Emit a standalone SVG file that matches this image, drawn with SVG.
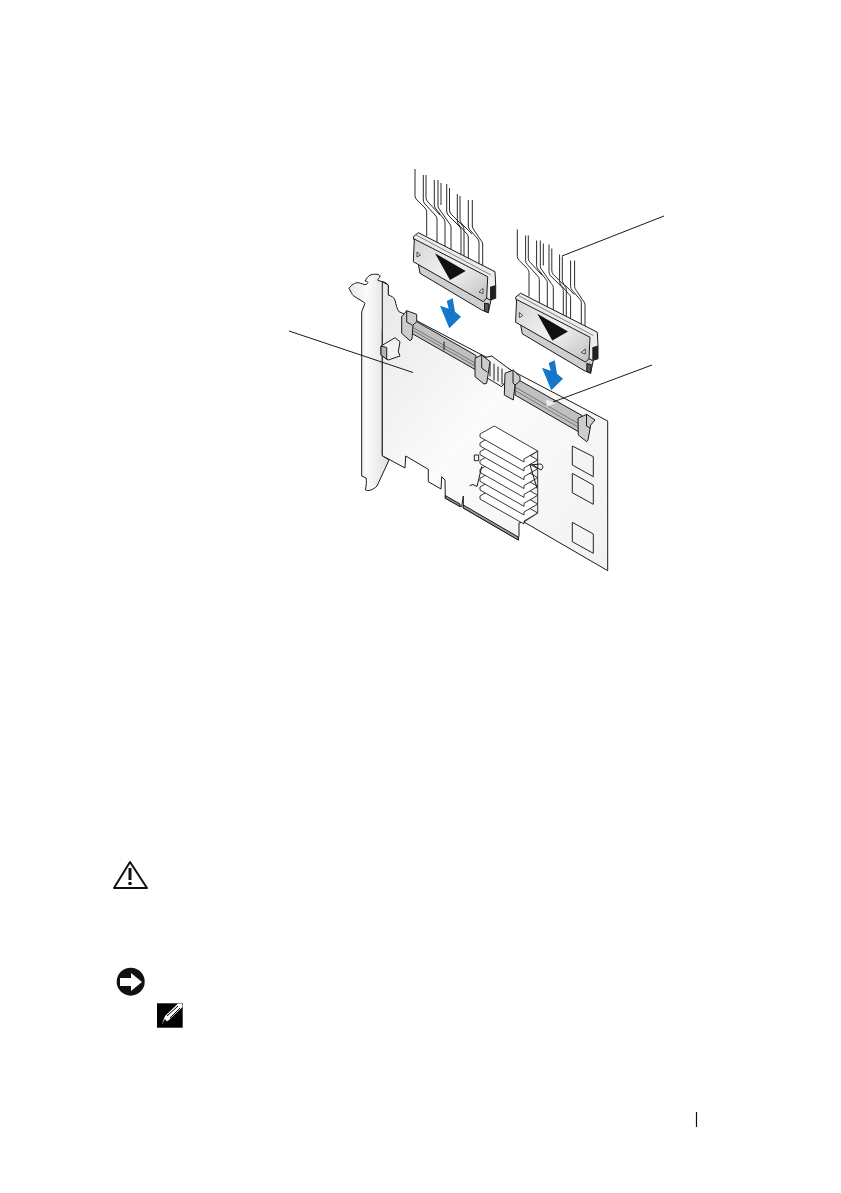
<svg xmlns="http://www.w3.org/2000/svg" width="841" height="1193" viewBox="0 0 841 1193">
<style>
.k{fill:none;stroke:#1a1a1a;stroke-width:1;stroke-linejoin:round;stroke-linecap:round}
.t{fill:none;stroke:#555;stroke-width:.7}
.o{stroke:#1a1a1a;stroke-width:1;stroke-linejoin:round}
.lead{fill:none;stroke:#1a1a1a;stroke-width:1}
.cb{fill:none;stroke:#2a2a2a;stroke-width:1;stroke-linejoin:round}
.fin{fill:#fff;stroke:#222;stroke-width:.9;stroke-linejoin:round}
.blue{fill:#1577c9}
.chip{fill:#f4f4f4;stroke:#222;stroke-width:1;stroke-linejoin:round}
.lat{fill:#cdcdcd;stroke:#1a1a1a;stroke-width:1;stroke-linejoin:round}
</style>
<defs>
<linearGradient id="board" x1="0" y1="0" x2="1" y2="1"><stop offset="0" stop-color="#e8e8e8"/><stop offset=".45" stop-color="#fbfbfb"/><stop offset="1" stop-color="#f2f2f2"/></linearGradient>
<linearGradient id="br" x1="0" y1="0" x2="1" y2="0"><stop offset="0" stop-color="#e6e6e6"/><stop offset=".45" stop-color="#fbfbfb"/><stop offset="1" stop-color="#dedede"/></linearGradient>
<linearGradient id="plate" x1="0" y1="0" x2="1" y2="1"><stop offset="0" stop-color="#d4d4d4"/><stop offset=".5" stop-color="#f2f2f2"/><stop offset="1" stop-color="#c0c0c0"/></linearGradient>
<g id="cables">
<path class="cb" d="M415,169V196Q415,198 417,200L425,208Q426.700,210 426.700,212V236"/>
<path class="cb" d="M423.300,175V200Q423.300,202 425,204L435,215Q437,217 437,219V246"/>
<path class="cb" d="M426,175V198Q426,200 428,202L440,215"/>
<path class="cb" d="M434.300,180V205Q434.300,207 436,209L443,218Q445,220 445,222V250"/>
<path class="cb" d="M438,180V206Q438,208 440,210L449,223Q451,225 451,227V254"/>
<path class="cb" d="M441,183V205"/>
<path class="cb" d="M446.700,184V211Q446.700,213 448,215L459,226Q461,228 461,230V258"/>
<path class="cb" d="M449.500,188V210Q449.500,212 451,214L462,225Q464,227 464,229V259"/>
<path class="cb" d="M457.300,194V221Q457.300,223 459,225L466,233Q468.300,235 468.300,237V264"/>
<path class="cb" d="M460,196V220Q460,222 462,224L472,234"/>
<path class="cb" d="M468.300,200V226Q468.300,228 470,230L477,238Q479,240 479,242V267"/>
<path class="cb" d="M472.300,200V226Q472.300,228 474,230L480,239Q482.700,242 482.700,244V270"/>
</g>
<g id="plug">
<path d="M418.300,264L420,273.300L481.700,310L488.300,312.700L491,300L480,295Z" fill="#cfcfcf" class="o"/>
<path d="M484.500,303V311L488.300,312.700L489,304Z" fill="#555" class="o"/>
<path d="M413.300,236.700L418.300,232.700L495,271.700L495.700,285L495.700,298.300L490,300L486.700,298L414,240Z" fill="#ececec" class="o"/>
<path d="M416,235L491,275" class="t"/>
<path d="M414.300,239L487.700,276.700L486.700,298L483.300,301.700L413.300,261.700Z" fill="url(#plate)" class="o"/>
<path d="M490,286.700L495.700,285V298.300L490,300Z" fill="#222"/>
<path d="M435,253.300L465.700,271L450,280Z" fill="#111"/>
<path d="M417,252L420.500,255L417,257Z" fill="#eee" stroke="#222" stroke-width=".8"/>
<path d="M483,288.500V293.500L479,292Z" fill="#eee" stroke="#222" stroke-width=".8"/>
</g>
</defs>

<g id="bracket">
<path class="o" fill="url(#br)" d="M349,288.300C351,285 355,282.500 358.300,282.700C361,283 364,285 366,284.500C369,283 368,281 365,281C368,276 370,274.500 373.300,274.300C377,274 380,274.500 380,276C380,278 377,279 378,280.500L385,282.300L388.300,285V295L382.300,330V455.700L389,460L383,473L377,486C373,490 368,491.500 365.500,490C366,486 367,481 366,478L361.700,476V311.700L365,303.300C360,299 353,297 351.700,293.300Z"/>
</g>

<g id="card">
<path class="o" fill="url(#board)" d="M382.300,281.700L388.300,285V295C391,296 394,297 395,300C396,305 397,309 399,311.700L402,313L607.700,421V570.700L524,522L519,523V535L518.300,540L463.300,508V496L461.700,506.700L445.300,498.300L445,480L441.700,476.700L441,489L428.300,481.700V469.300L405.700,456L405,468L382.300,455.700Z"/>
<path d="M445.300,495.500V498.300L460,506.700V504Z" fill="#8a8a8a" class="o"/>
<path d="M463.300,505V508L518.300,540V537Z" fill="#9a9a9a" class="o"/>
</g>

<g id="bracket-tab">
<path class="o" fill="#f2f2f2" d="M381,346L395,337.700L400,341.700L398.300,351.700L400,356L388.300,360L381,355Z"/>
<path class="o" fill="#b5b5b5" d="M381,346L386.700,347.500V359.300L381,355Z"/>
</g>

<g id="slot-left">
<path class="o" fill="#c0c0c0" d="M412,319L476,355.500V370L412,333.500Z"/>
<path class="t" d="M412,327L476,363.500M412,330L476,366.500"/>
<path class="k" d="M444,342V350"/>
<path class="lat" d="M401.700,316.700L406.700,310.700L416.700,314.300V321.700L413,325L412,339L410,340.700L401.700,333.300Z"/>
<path class="k" d="M406.700,311V322L412,325"/>
</g>

<g id="socket-mid">
<path class="o" fill="#f6f6f6" d="M481.700,358.300L491.700,356L513,371.700L501.700,386.700L485,376.700Z"/>
<path class="k" d="M490,362V376M494,364V380M498,367V381M502,369V384"/>
<path class="lat" d="M475,358.300L481.700,355L490,361.700L486.700,383.300L484,384L475,376.700Z"/>
<path class="k" d="M481.700,355V368L487,372"/>
</g>

<g id="slot-right">
<path class="o" fill="#c0c0c0" d="M515,378L582,415.500L579,432L515,395Z"/>
<path class="t" d="M515,387L579,424M515,390.500L579,427.500"/>
<path d="M546,399.500L556,403L547,406.500Z" fill="#eee"/>
<path class="lat" d="M505,373.300L513.300,370L520,376.700V381L515,385L513.300,400L504.300,395Z"/>
<path class="k" d="M513,370.500V383L515,385"/>
<path class="lat" d="M578,418.300L586.700,414.300L595,420L590.700,425L588,440L586.700,441.700L578.300,435Z"/>
<path class="k" d="M586.500,415V426L590,428"/>
</g>

<g id="heatsink">
<path class="fin" d="M524,460L537.700,451V513L524,522Z" style="fill:#eee"/>
<path class="fin" d="M480,496L494,488L537.700,513L524,521V524L480,499Z"/>
<path class="fin" d="M480,487L494,479L537.700,504L524,512V515L480,490Z"/>
<path class="fin" d="M480,478.300L494,470.300L537.700,495.300L524,503.300V506.300L480,481.300Z"/>
<path class="fin" d="M480,469.400L494,461.400L537.700,486.400L524,494.400V497.400L480,472.400Z"/>
<path class="fin" d="M480,460.600L494,452.600L537.700,477.600L524,485.600V488.600L480,463.600Z"/>
<path class="fin" d="M480,451.700L494,443.700L537.700,468.700L524,476.700V479.700L480,454.700Z"/>
<path class="fin" d="M480,442.900L494,434.900L537.700,459.900L524,467.900V470.900L480,445.900Z"/>
<path class="fin" d="M480,434L494.300,426L537.700,451L524,459V462L480,437Z"/>
<path class="chip" d="M474.300,455H478.700V460.700H474.300Z"/>
<path class="k" d="M481.700,466.700L477,486.500L473,484.500L470,485.500"/>
<path class="k" d="M530,465L537,488M533,465L541,470C544,468 543,464 540,464L530,465"/>
</g>

<g id="chips">
<path class="chip" d="M572.300,446L593.300,456.700V476.700L572.300,465Z"/>
<path class="chip" d="M572.300,473.300L593.300,485V504.300L572.300,492.700Z"/>
<path class="chip" d="M572.300,522.300L593.300,534V553.300L572.300,541.700Z"/>
</g>

<g id="cable-left"><use href="#cables"/><use href="#plug"/></g>
<g id="cable-right" transform="translate(102.300,60.500)"><use href="#cables"/><use href="#plug"/></g>

<g id="arrows">
<path class="blue" d="M446.700,301L452.700,298.300L455,311.700L461,316.700L449.300,328.300L440,305.700L448.700,308.700Z"/>
<path class="blue" d="M548.700,363L554.700,360.300L557,373.700L563,378.700L551.300,390.300L542,367.700L550.700,370.700Z"/>
</g>

<g id="connectors">
<path class="lead" d="M289,331L413,372.500"/>
<path class="lead" d="M664,216L562,256"/>
<path class="lead" d="M652,365L553,402"/>
</g>

<g id="caution">
<path d="M130,862L114,888H147Z" fill="#fff" stroke="#111" stroke-width="2" stroke-linejoin="round"/>
<path d="M130,868V880" stroke="#111" stroke-width="3"/>
<circle cx="130" cy="883.500" r="1.800" fill="#111"/>
</g>
<g id="notice">
<circle cx="130.700" cy="981.700" r="14" fill="#111"/>
<path d="M120,978H131V973L142,982L131,991V986H120Z" fill="#fff"/>
</g>
<g id="note">
<rect x="157" y="1003.300" width="25.700" height="24.400" fill="#000"/>
<path d="M162,1024L165,1016L178,1003.500H182L182.500,1007L169,1020Z" fill="#fff"/>
<path d="M167,1016L178,1006M170,1018L180,1008" stroke="#000" stroke-width="1"/>
<path d="M162,1024L165,1019L167,1022Z" fill="#000"/>
</g>
<g id="page-rule"><path d="M696.500,1112V1127" stroke="#111" stroke-width="1.200"/></g>
</svg>
